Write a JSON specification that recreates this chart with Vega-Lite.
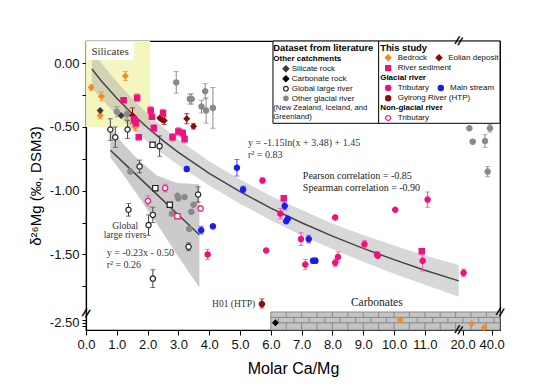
{
  "$schema": "https://vega.github.io/schema/vega-lite/v6.json",
  "width": 414,
  "height": 289,
  "autosize": {"type": "none"},
  "padding": {"left": 86, "top": 41, "right": 57, "bottom": 60},
  "background": "white",
  "data": {"values": [{}]},
  "resolve": {"axis": {"x": "independent", "y": "independent"}},
  "config": {
    "view": {"stroke": "black", "strokeWidth": 1.2},
    "axis": {"grid": false, "domainColor": "black", "domainWidth": 1.2, "tickColor": "black", "tickWidth": 1, "labelFont": "Liberation Sans", "labelFontSize": 13, "labelColor": "#111", "titleFont": "Liberation Sans", "titleFontWeight": "normal", "titleColor": "#000", "labelFlush": false, "labelOverlap": false}
  },
  "datasets": {
    "pts": [
      {"g": "Bedrock", "x": 0.17, "y": -0.19, "err": 0.02},
      {"g": "Bedrock", "x": 0.5, "y": -0.26, "err": 0.035},
      {"g": "Bedrock", "x": 1.28, "y": -0.1, "err": 0.035},
      {"g": "Bedrock", "x": 0.46, "y": -0.41, "err": 0.025},
      {"g": "Bedrock", "x": 1.6, "y": -0.5, "err": 0.03},
      {"g": "Bedrock", "x": 10.2, "y": -2.45},
      {"g": "Bedrock", "x": 26.2, "y": -2.51},
      {"g": "Bedrock", "x": 34.8, "y": -2.58},
      {"g": "Silicate rock", "x": 0.46, "y": -0.37},
      {"g": "Silicate rock", "x": 1.14, "y": -0.41},
      {"g": "Carbonate rock", "x": 6.15, "y": -2.5},
      {"g": "Global large river", "x": 0.79, "y": -0.52, "err": 0.085},
      {"g": "Global large river", "x": 0.95, "y": -0.58, "err": 0.08},
      {"g": "Global large river", "x": 1.35, "y": -0.52, "err": 0.07},
      {"g": "Global large river", "x": 1.74, "y": -0.81, "err": 0.05},
      {"g": "Global large river", "x": 2.39, "y": -0.65, "err": 0.08},
      {"g": "Global large river", "x": 3.64, "y": -1.03, "err": 0.06},
      {"g": "Global large river", "x": 1.38, "y": -1.15, "err": 0.05},
      {"g": "Global large river", "x": 2.17, "y": -1.19, "err": 0.06},
      {"g": "Global large river", "x": 2.03, "y": -1.27, "err": 0.08},
      {"g": "Global large river", "x": 3.33, "y": -1.44, "err": 0.03},
      {"g": "Global large river", "x": 2.17, "y": -1.69, "err": 0.07},
      {"g": "Global large river sq", "x": 2.16, "y": -0.64, "err": 0.015},
      {"g": "Global large river sq", "x": 2.25, "y": -0.98, "err": 0.015},
      {"g": "Global large river sq", "x": 2.72, "y": -1.11, "err": 0.015},
      {"g": "Other glacial river", "x": 1.0, "y": -0.38, "err": 0.04},
      {"g": "Other glacial river", "x": 1.33, "y": -0.4, "err": 0.04},
      {"g": "Other glacial river", "x": 2.93, "y": -0.15, "err": 0.085},
      {"g": "Other glacial river", "x": 3.37, "y": -0.28, "err": 0.04},
      {"g": "Other glacial river", "x": 3.43, "y": -0.28, "err": 0.04},
      {"g": "Other glacial river", "x": 3.75, "y": -0.34, "err": 0.05},
      {"g": "Other glacial river", "x": 3.87, "y": -0.22, "err": 0.06},
      {"g": "Other glacial river", "x": 3.9, "y": -0.37, "err": 0.1},
      {"g": "Other glacial river", "x": 4.12, "y": -0.35, "err": 0.16},
      {"g": "Other glacial river", "x": 1.44, "y": -0.85},
      {"g": "Other glacial river", "x": 2.97, "y": -1.04},
      {"g": "Other glacial river", "x": 3.0, "y": -1.06},
      {"g": "Other glacial river", "x": 3.2, "y": -1.05},
      {"g": "Other glacial river", "x": 2.79, "y": -1.18},
      {"g": "Other glacial river", "x": 3.49, "y": -1.11},
      {"g": "Other glacial river", "x": 3.42, "y": -1.165},
      {"g": "Other glacial river", "x": 3.35, "y": -1.3},
      {"g": "Other glacial river", "x": 24.6, "y": -0.51},
      {"g": "Other glacial river", "x": 38.8, "y": -0.51, "err": 0.03},
      {"g": "Other glacial river", "x": 26.9, "y": -0.615},
      {"g": "Other glacial river", "x": 35.4, "y": -0.61, "err": 0.05},
      {"g": "Other glacial river", "x": 37.2, "y": -0.85, "err": 0.04},
      {"g": "Eolian deposit", "x": 1.51, "y": -0.41, "err": 0.06},
      {"g": "Eolian deposit", "x": 2.39, "y": -0.43},
      {"g": "Eolian deposit", "x": 2.47, "y": -0.445},
      {"g": "Eolian deposit", "x": 2.54, "y": -0.45, "err": 0.03},
      {"g": "Eolian deposit", "x": 3.27, "y": -0.435, "err": 0.04},
      {"g": "Eolian deposit", "x": 3.49, "y": -0.495, "err": 0.02},
      {"g": "River sediment", "x": 1.22, "y": -0.29, "err": 0.02},
      {"g": "River sediment", "x": 1.66, "y": -0.27, "err": 0.03},
      {"g": "River sediment", "x": 1.56, "y": -0.44, "err": 0.03},
      {"g": "River sediment", "x": 1.62, "y": -0.47, "err": 0.03},
      {"g": "River sediment", "x": 1.71, "y": -0.58},
      {"g": "River sediment", "x": 2.1, "y": -0.37, "err": 0.03},
      {"g": "River sediment", "x": 2.14, "y": -0.42},
      {"g": "River sediment", "x": 2.2, "y": -0.51, "err": 0.03},
      {"g": "River sediment", "x": 2.5, "y": -0.39, "err": 0.03},
      {"g": "River sediment", "x": 2.81, "y": -0.58, "err": 0.03},
      {"g": "River sediment", "x": 3.0, "y": -0.535, "err": 0.03},
      {"g": "River sediment", "x": 3.14, "y": -0.55, "err": 0.03},
      {"g": "River sediment", "x": 3.2, "y": -0.595, "err": 0.03},
      {"g": "River sediment", "x": 6.42, "y": -1.06, "err": 0.02},
      {"g": "River sediment", "x": 10.9, "y": -1.475, "err": 0.02},
      {"g": "Glacial tributary", "x": 3.95, "y": -1.5, "err": 0.04},
      {"g": "Glacial tributary", "x": 5.73, "y": -0.92, "err": 0.02},
      {"g": "Glacial tributary", "x": 5.85, "y": -1.47},
      {"g": "Glacial tributary", "x": 6.31, "y": -1.18, "err": 0.04},
      {"g": "Glacial tributary", "x": 6.98, "y": -1.38, "err": 0.05},
      {"g": "Glacial tributary", "x": 7.12, "y": -1.58, "err": 0.04},
      {"g": "Glacial tributary", "x": 8.09, "y": -1.21},
      {"g": "Glacial tributary", "x": 8.09, "y": -1.565, "err": 0.03},
      {"g": "Glacial tributary", "x": 8.18, "y": -1.52, "err": 0.04},
      {"g": "Glacial tributary", "x": 9.04, "y": -1.42, "err": 0.03},
      {"g": "Glacial tributary", "x": 9.45, "y": -1.5, "err": 0.02},
      {"g": "Glacial tributary", "x": 9.47, "y": -1.51},
      {"g": "Glacial tributary", "x": 10.04, "y": -1.15},
      {"g": "Glacial tributary", "x": 10.93, "y": -1.55, "err": 0.08},
      {"g": "Glacial tributary", "x": 11.09, "y": -1.07, "err": 0.06},
      {"g": "Glacial tributary", "x": 20.6, "y": -1.645, "err": 0.03},
      {"g": "Main stream", "x": 3.27, "y": -0.83, "err": 0.02},
      {"g": "Main stream", "x": 3.74, "y": -1.31, "err": 0.03},
      {"g": "Main stream", "x": 4.12, "y": -1.28},
      {"g": "Main stream", "x": 4.9, "y": -0.82, "err": 0.065},
      {"g": "Main stream", "x": 5.1, "y": -0.99, "err": 0.025},
      {"g": "Main stream", "x": 6.45, "y": -1.12, "err": 0.03},
      {"g": "Main stream", "x": 6.5, "y": -1.24},
      {"g": "Main stream", "x": 6.55, "y": -1.22},
      {"g": "Main stream", "x": 7.23, "y": -1.38, "err": 0.03},
      {"g": "Main stream", "x": 7.37, "y": -1.55, "err": 0.02},
      {"g": "Main stream", "x": 7.45, "y": -1.55, "err": 0.02},
      {"g": "Gyirong River (HTP)", "x": 5.71, "y": -1.89, "err": 0.04},
      {"g": "Non-glacial tributary", "x": 2.01, "y": -1.08, "err": 0.04},
      {"g": "Non-glacial tributary", "x": 2.57, "y": -0.98, "err": 0.03},
      {"g": "Non-glacial tributary", "x": 3.72, "y": -1.14, "err": 0.02},
      {"g": "Non-glacial tributary sq", "x": 2.97, "y": -1.2, "err": 0.02}
    ],
    "fit1": [
      {"x": 0.19, "y": -0.045, "lo": -0.195, "hi": 0.105},
      {"x": 0.5, "y": -0.139, "lo": -0.279, "hi": 0.001},
      {"x": 1, "y": -0.275, "lo": -0.405, "hi": -0.145},
      {"x": 1.5, "y": -0.396, "lo": -0.516, "hi": -0.276},
      {"x": 2, "y": -0.506, "lo": -0.616, "hi": -0.396},
      {"x": 2.5, "y": -0.607, "lo": -0.712, "hi": -0.502},
      {"x": 3, "y": -0.699, "lo": -0.799, "hi": -0.599},
      {"x": 4, "y": -0.864, "lo": -0.959, "hi": -0.769},
      {"x": 5, "y": -1.008, "lo": -1.103, "hi": -0.913},
      {"x": 6, "y": -1.137, "lo": -1.232, "hi": -1.042},
      {"x": 7, "y": -1.252, "lo": -1.352, "hi": -1.152},
      {"x": 8, "y": -1.357, "lo": -1.457, "hi": -1.257},
      {"x": 9, "y": -1.453, "lo": -1.558, "hi": -1.348},
      {"x": 10, "y": -1.541, "lo": -1.651, "hi": -1.431},
      {"x": 11, "y": -1.624, "lo": -1.739, "hi": -1.509},
      {"x": 12.1, "y": -1.708, "lo": -1.833, "hi": -1.583}
    ],
    "fit2": [
      {"x": 0.79, "y": -0.682, "lo": -0.74, "hi": -0.51},
      {"x": 1.2, "y": -0.776, "lo": -0.87, "hi": -0.63},
      {"x": 1.66, "y": -0.882, "lo": -1.03, "hi": -0.75},
      {"x": 2.3, "y": -1.029, "lo": -1.26, "hi": -0.88},
      {"x": 2.95, "y": -1.179, "lo": -1.5, "hi": -0.94},
      {"x": 3.68, "y": -1.346, "lo": -1.76, "hi": -0.95}
    ],
    "bricks": [
      {"jx": 6.5, "row": "a"}, {"jx": 7.0, "row": "a"}, {"jx": 7.5, "row": "a"}, {"jx": 8.0, "row": "a"},
      {"jx": 8.5, "row": "a"}, {"jx": 9.0, "row": "a"}, {"jx": 9.5, "row": "a"}, {"jx": 10.0, "row": "a"},
      {"jx": 10.5, "row": "a"}, {"jx": 11.0, "row": "a"}, {"jx": 11.5, "row": "a"}, {"jx": 12.0, "row": "a"},
      {"jx": 25.7, "row": "a"}, {"jx": 36.3, "row": "a"},
      {"jx": 6.25, "row": "b"}, {"jx": 6.75, "row": "b"}, {"jx": 7.25, "row": "b"}, {"jx": 7.75, "row": "b"},
      {"jx": 8.25, "row": "b"}, {"jx": 8.75, "row": "b"}, {"jx": 9.25, "row": "b"}, {"jx": 9.75, "row": "b"},
      {"jx": 10.25, "row": "b"}, {"jx": 10.75, "row": "b"}, {"jx": 11.25, "row": "b"}, {"jx": 11.75, "row": "b"},
      {"jx": 20.2, "row": "b"}, {"jx": 30.9, "row": "b"}, {"jx": 41.6, "row": "b"}
    ]
  },
  "layer": [
    {
      "mark": {"type": "rect", "color": "#f4f6c0"},
      "encoding": {
        "x": {"datum": 0, "type": "quantitative",
          "scale": {"type": "linear", "domain": [0, 12.2, 20, 40, 45.7], "range": [0, 375.8, 376.7, 405.7, 414], "zero": false, "nice": false},
          "axis": {"orient": "bottom", "values": [0, 1, 2, 3, 4, 5, 6, 7, 8, 9, 10, 11, 20, 40], "labelExpr": "format(datum.value, '.1f')", "labelOverlap": false, "tickSize": 5, "labelPadding": 3, "title": "Molar Ca/Mg", "titleFontSize": 16, "titlePadding": 9}},
        "x2": {"datum": 2.08},
        "y": {"datum": -0.5, "type": "quantitative",
          "scale": {"type": "linear", "domain": [-2.62, -2.32, -1.92, 0.175], "range": [289, 271, 266.9, 0], "zero": false, "nice": false},
          "axis": {"orient": "left", "values": [0, -0.25, -0.5, -0.75, -1, -1.25, -1.5, -1.75, -2.45, -2.5, -2.55],
                   "labelExpr": "indexof([0, -0.5, -1, -1.5, -2.5], datum.value) >= 0 ? replace(format(datum.value, '.2f'), '\u2212', '-') : ''",
                   "labelOverlap": false, "tickSize": 4, "labelPadding": 3, "title": "δ²⁶Mg (‰, DSM3)", "titleFontSize": 15, "titlePadding": 6}},
        "y2": {"datum": 0.175}
      }
    },
    {
      "data": {"name": "fit1"},
      "mark": {"type": "area", "color": "#a8a8a8", "opacity": 0.45},
      "encoding": {
        "x": {"field": "x", "type": "quantitative", "axis": null},
        "y": {"field": "lo", "type": "quantitative", "axis": null},
        "y2": {"field": "hi"}
      }
    },
    {
      "data": {"name": "fit2"},
      "mark": {"type": "area", "color": "#a0a0a0", "opacity": 0.55},
      "encoding": {
        "x": {"field": "x", "type": "quantitative", "axis": null},
        "y": {"field": "lo", "type": "quantitative", "axis": null},
        "y2": {"field": "hi"}
      }
    },
    {
      "data": {"name": "fit1"},
      "mark": {"type": "line", "color": "#444444", "strokeWidth": 1.5},
      "encoding": {
        "x": {"field": "x", "type": "quantitative", "axis": null},
        "y": {"field": "y", "type": "quantitative", "axis": null}
      }
    },
    {
      "data": {"name": "fit2"},
      "mark": {"type": "line", "color": "#444444", "strokeWidth": 1.5},
      "encoding": {
        "x": {"field": "x", "type": "quantitative", "axis": null},
        "y": {"field": "y", "type": "quantitative", "axis": null}
      }
    },
    {
      "mark": {"type": "rect", "color": "white"},
      "encoding": {
        "x": {"datum": 0.03, "axis": null}, "x2": {"datum": 1.55},
        "y": {"datum": 0.026, "axis": null}, "y2": {"datum": 0.17}
      }
    },
    {
      "mark": {"type": "text", "text": "Silicates", "font": "Liberation Serif", "fontSize": 11, "align": "center", "baseline": "middle", "color": "#333"},
      "encoding": {"x": {"datum": 0.78, "axis": null}, "y": {"datum": 0.089, "axis": null}}
    },
    {
      "mark": {"type": "rect", "fill": "#c4c4c4", "stroke": "#888888", "strokeWidth": 1},
      "encoding": {
        "x": {"datum": 6.0, "axis": null}, "x2": {"datum": 45.7},
        "y": {"datum": -2.62, "axis": null}, "y2": {"datum": -2.32}
      }
    },
    {
      "mark": {"type": "rule", "color": "#888888", "strokeWidth": 1},
      "encoding": {"x": {"datum": 6.0, "axis": null}, "x2": {"datum": 45.7}, "y": {"datum": -2.41, "axis": null}}
    },
    {
      "mark": {"type": "rule", "color": "#888888", "strokeWidth": 1},
      "encoding": {"x": {"datum": 6.0, "axis": null}, "x2": {"datum": 45.7}, "y": {"datum": -2.5, "axis": null}}
    },
    {
      "data": {"name": "bricks"},
      "transform": [{"filter": "datum.row == 'a'"}],
      "mark": {"type": "rule", "color": "#888888", "strokeWidth": 1},
      "encoding": {"x": {"field": "jx", "type": "quantitative", "axis": null}, "y": {"datum": -2.32, "axis": null}, "y2": {"datum": -2.41}}
    },
    {
      "data": {"name": "bricks"},
      "transform": [{"filter": "datum.row == 'a'"}],
      "mark": {"type": "rule", "color": "#888888", "strokeWidth": 1},
      "encoding": {"x": {"field": "jx", "type": "quantitative", "axis": null}, "y": {"datum": -2.5, "axis": null}, "y2": {"datum": -2.62}}
    },
    {
      "data": {"name": "bricks"},
      "transform": [{"filter": "datum.row == 'b'"}],
      "mark": {"type": "rule", "color": "#888888", "strokeWidth": 1},
      "encoding": {"x": {"field": "jx", "type": "quantitative", "axis": null}, "y": {"datum": -2.41, "axis": null}, "y2": {"datum": -2.5}}
    },
    {
      "mark": {"type": "rect", "fill": "white", "stroke": "black", "strokeWidth": 1},
      "encoding": {
        "x": {"datum": 6.07, "axis": null}, "x2": {"datum": 45.7},
        "y": {"datum": -0.471, "axis": null}, "y2": {"datum": 0.175}
      }
    },
    {
      "mark": {"type": "rule", "color": "black", "strokeWidth": 1},
      "encoding": {"x": {"datum": 9.5, "axis": null}, "y": {"datum": -0.471, "axis": null}, "y2": {"datum": 0.175}}
    },
    {
      "data": {"name": "pts"},
      "transform": [{"filter": "isValid(datum.err)"}],
      "mark": {"type": "errorbar", "ticks": {"size": 5}, "thickness": 1},
      "encoding": {
        "x": {"field": "x", "type": "quantitative", "axis": null},
        "y": {"field": "y", "type": "quantitative", "axis": null},
        "yError": {"field": "err"},
        "color": {"field": "g", "type": "nominal", "legend": null,
          "scale": {"domain": ["Silicate rock", "Carbonate rock", "Global large river", "Global large river sq", "Other glacial river", "Bedrock", "Eolian deposit", "River sediment", "Glacial tributary", "Main stream", "Gyirong River (HTP)", "Non-glacial tributary", "Non-glacial tributary sq"],
                    "range": ["#3a3a3a", "#000000", "#444444", "#444444", "#8a8a8a", "#f58a1f", "#8b0a0a", "#f0509a", "#f0509a", "#4040f0", "#8b1010", "#f0509a", "#f0509a"]}}
      }
    },
    {
      "data": {"name": "pts"},
      "mark": {"type": "point", "filled": true, "opacity": 1, "strokeWidth": 1.2},
      "encoding": {
        "x": {"field": "x", "type": "quantitative", "axis": null},
        "y": {"field": "y", "type": "quantitative", "axis": null},
        "fill": {"field": "g", "type": "nominal", "legend": null,
          "scale": {"domain": ["Silicate rock", "Carbonate rock", "Global large river", "Global large river sq", "Other glacial river", "Bedrock", "Eolian deposit", "River sediment", "Glacial tributary", "Main stream", "Gyirong River (HTP)", "Non-glacial tributary", "Non-glacial tributary sq"],
                    "range": ["#3a3a3a", "#000000", "white", "white", "#8a8a8a", "#f58a1f", "#8b0a0a", "#f0107f", "#f0107f", "#1c1cf0", "#8b1010", "white", "white"]}},
        "stroke": {"field": "g", "type": "nominal", "legend": null,
          "scale": {"domain": ["Silicate rock", "Carbonate rock", "Global large river", "Global large river sq", "Other glacial river", "Bedrock", "Eolian deposit", "River sediment", "Glacial tributary", "Main stream", "Gyirong River (HTP)", "Non-glacial tributary", "Non-glacial tributary sq"],
                    "range": ["#3a3a3a", "#000000", "#222222", "#222222", "#8a8a8a", "#f58a1f", "#8b0a0a", "#f0107f", "#f0107f", "#1c1cf0", "#8b1010", "#f0107f", "#f0107f"]}},
        "shape": {"field": "g", "type": "nominal", "legend": null,
          "scale": {"domain": ["Silicate rock", "Carbonate rock", "Global large river", "Global large river sq", "Other glacial river", "Bedrock", "Eolian deposit", "River sediment", "Glacial tributary", "Main stream", "Gyirong River (HTP)", "Non-glacial tributary", "Non-glacial tributary sq"],
                    "range": ["diamond", "diamond", "circle", "square", "circle", "diamond", "diamond", "square", "circle", "circle", "circle", "circle", "square"]}},
        "size": {"field": "g", "type": "nominal", "legend": null,
          "scale": {"domain": ["Silicate rock", "Carbonate rock", "Global large river", "Global large river sq", "Other glacial river", "Bedrock", "Eolian deposit", "River sediment", "Glacial tributary", "Main stream", "Gyirong River (HTP)", "Non-glacial tributary", "Non-glacial tributary sq"],
                    "range": [28, 28, 32, 28, 20, 28, 28, 24, 26, 26, 26, 32, 28]}}
      }
    },
    {
      "mark": {"type": "text", "text": ["y = -1.15ln(x + 3.48) + 1.45", "r² = 0.83"], "lineHeight": 12, "font": "Liberation Serif", "fontSize": 10, "align": "left", "baseline": "middle", "color": "#333"},
      "encoding": {"x": {"datum": 5.26, "axis": null}, "y": {"datum": -0.628, "axis": null}}
    },
    {
      "mark": {"type": "text", "text": ["Pearson correlation = -0.85", "Spearman correlation = -0.90"], "lineHeight": 12.3, "font": "Liberation Serif", "fontSize": 10, "align": "left", "baseline": "middle", "color": "#222"},
      "encoding": {"x": {"datum": 7.04, "axis": null}, "y": {"datum": -0.882, "axis": null}}
    },
    {
      "mark": {"type": "text", "text": ["Global", "large rivers"], "lineHeight": 8.8, "font": "Liberation Serif", "fontSize": 9.5, "align": "center", "baseline": "middle", "color": "#333"},
      "encoding": {"x": {"datum": 1.27, "axis": null}, "y": {"datum": -1.281, "axis": null}}
    },
    {
      "mark": {"type": "text", "text": ["y = -0.23x - 0.50", "r² = 0.26"], "lineHeight": 12.3, "font": "Liberation Serif", "fontSize": 10, "align": "left", "baseline": "middle", "color": "#333"},
      "encoding": {"x": {"datum": 0.67, "axis": null}, "y": {"datum": -1.487, "axis": null}}
    },
    {
      "mark": {"type": "text", "text": "H01 (HTP)", "font": "Liberation Serif", "fontSize": 9.5, "align": "right", "baseline": "middle", "color": "#333"},
      "encoding": {"x": {"datum": 5.49, "axis": null}, "y": {"datum": -1.888, "axis": null}}
    },
    {
      "mark": {"type": "text", "text": "Carbonates", "font": "Liberation Serif", "fontSize": 11.5, "align": "center", "baseline": "middle", "color": "#222"},
      "encoding": {"x": {"datum": 9.44, "axis": null}, "y": {"datum": -1.884, "axis": null}}
    },
    {
      "mark": {"type": "text", "text": "Dataset from literature", "font": "Liberation Sans", "fontSize": 9.4, "fontWeight": "bold", "align": "left", "baseline": "middle", "color": "#000"},
      "encoding": {"x": {"datum": 6.08, "axis": null}, "y": {"datum": 0.122, "axis": null}}
    },
    {
      "mark": {"type": "text", "text": "This study", "font": "Liberation Sans", "fontSize": 9.4, "fontWeight": "bold", "align": "left", "baseline": "middle", "color": "#000"},
      "encoding": {"x": {"datum": 9.55, "axis": null}, "y": {"datum": 0.122, "axis": null}}
    },
    {
      "mark": {"type": "text", "text": "Other catchments", "font": "Liberation Sans", "fontSize": 8, "fontWeight": "bold", "align": "left", "baseline": "middle", "color": "#000"},
      "encoding": {"x": {"datum": 6.08, "axis": null}, "y": {"datum": 0.036, "axis": null}}
    },
    {
      "mark": {"type": "text", "text": ["Silicate rock", "Carbonate rock", "Global large river", "Other glacial river"], "lineHeight": 10, "font": "Liberation Sans", "fontSize": 8, "align": "left", "baseline": "middle", "color": "#111"},
      "encoding": {"x": {"datum": 6.68, "axis": null}, "y": {"datum": -0.042, "axis": null}}
    },
    {
      "mark": {"type": "text", "text": ["(New  Zealand, Iceland, and", "Greenland)"], "lineHeight": 9, "font": "Liberation Sans", "fontSize": 7.7, "align": "left", "baseline": "middle", "color": "#111"},
      "encoding": {"x": {"datum": 6.08, "axis": null}, "y": {"datum": -0.353, "axis": null}}
    },
    {
      "mark": {"type": "text", "text": ["Bedrock", "River sediment"], "lineHeight": 10.3, "font": "Liberation Sans", "fontSize": 8, "align": "left", "baseline": "middle", "color": "#111"},
      "encoding": {"x": {"datum": 10.12, "axis": null}, "y": {"datum": 0.044, "axis": null}}
    },
    {
      "mark": {"type": "text", "text": ["Tributary", "Gyirong River (HTP)"], "lineHeight": 10.3, "font": "Liberation Sans", "fontSize": 8, "align": "left", "baseline": "middle", "color": "#111"},
      "encoding": {"x": {"datum": 10.12, "axis": null}, "y": {"datum": -0.194, "axis": null}}
    },
    {
      "mark": {"type": "text", "text": "Tributary", "font": "Liberation Sans", "fontSize": 8, "align": "left", "baseline": "middle", "color": "#111"},
      "encoding": {"x": {"datum": 10.12, "axis": null}, "y": {"datum": -0.429, "axis": null}}
    },
    {
      "mark": {"type": "text", "text": "Eolian deposit", "font": "Liberation Sans", "fontSize": 8, "align": "left", "baseline": "middle", "color": "#111"},
      "encoding": {"x": {"datum": 11.76, "axis": null}, "y": {"datum": 0.044, "axis": null}}
    },
    {
      "mark": {"type": "text", "text": "Main stream", "font": "Liberation Sans", "fontSize": 8, "align": "left", "baseline": "middle", "color": "#111"},
      "encoding": {"x": {"datum": 11.82, "axis": null}, "y": {"datum": -0.194, "axis": null}}
    },
    {
      "mark": {"type": "text", "text": "Glacial river", "font": "Liberation Sans", "fontSize": 8, "fontWeight": "bold", "align": "left", "baseline": "middle", "color": "#000"},
      "encoding": {"x": {"datum": 9.55, "axis": null}, "y": {"datum": -0.118, "axis": null}}
    },
    {
      "mark": {"type": "text", "text": "Non-glacial river", "font": "Liberation Sans", "fontSize": 8, "fontWeight": "bold", "align": "left", "baseline": "middle", "color": "#000"},
      "encoding": {"x": {"datum": 9.55, "axis": null}, "y": {"datum": -0.353, "axis": null}}
    },
    {
      "mark": {"type": "point", "shape": "diamond", "filled": true, "fill": "#3a3a3a", "stroke": "#3a3a3a", "size": 22, "opacity": 1},
      "encoding": {"x": {"datum": 6.49, "axis": null}, "y": {"datum": -0.042, "axis": null}}
    },
    {
      "mark": {"type": "point", "shape": "diamond", "filled": true, "fill": "#000000", "stroke": "#000000", "size": 22, "opacity": 1},
      "encoding": {"x": {"datum": 6.49, "axis": null}, "y": {"datum": -0.121, "axis": null}}
    },
    {
      "mark": {"type": "point", "shape": "circle", "filled": true, "fill": "white", "stroke": "#222222", "strokeWidth": 1.2, "size": 22, "opacity": 1},
      "encoding": {"x": {"datum": 6.49, "axis": null}, "y": {"datum": -0.199, "axis": null}}
    },
    {
      "mark": {"type": "point", "shape": "circle", "filled": true, "fill": "#8a8a8a", "stroke": "#8a8a8a", "size": 14, "opacity": 1},
      "encoding": {"x": {"datum": 6.49, "axis": null}, "y": {"datum": -0.275, "axis": null}}
    },
    {
      "mark": {"type": "point", "shape": "diamond", "filled": true, "fill": "#f58a1f", "stroke": "#f58a1f", "size": 22, "opacity": 1},
      "encoding": {"x": {"datum": 9.81, "axis": null}, "y": {"datum": 0.044, "axis": null}}
    },
    {
      "mark": {"type": "point", "shape": "diamond", "filled": true, "fill": "#8b0a0a", "stroke": "#8b0a0a", "size": 22, "opacity": 1},
      "encoding": {"x": {"datum": 11.46, "axis": null}, "y": {"datum": 0.044, "axis": null}}
    },
    {
      "mark": {"type": "point", "shape": "square", "filled": true, "fill": "#f0107f", "stroke": "#f0107f", "size": 18, "opacity": 1},
      "encoding": {"x": {"datum": 9.81, "axis": null}, "y": {"datum": -0.037, "axis": null}}
    },
    {
      "mark": {"type": "point", "shape": "circle", "filled": true, "fill": "#f0107f", "stroke": "#f0107f", "size": 20, "opacity": 1},
      "encoding": {"x": {"datum": 9.81, "axis": null}, "y": {"datum": -0.194, "axis": null}}
    },
    {
      "mark": {"type": "point", "shape": "circle", "filled": true, "fill": "#1c1cf0", "stroke": "#1c1cf0", "size": 20, "opacity": 1},
      "encoding": {"x": {"datum": 11.52, "axis": null}, "y": {"datum": -0.194, "axis": null}}
    },
    {
      "mark": {"type": "point", "shape": "circle", "filled": true, "fill": "#8b1010", "stroke": "#8b1010", "size": 20, "opacity": 1},
      "encoding": {"x": {"datum": 9.81, "axis": null}, "y": {"datum": -0.275, "axis": null}}
    },
    {
      "mark": {"type": "point", "shape": "circle", "filled": true, "fill": "white", "stroke": "#f0107f", "strokeWidth": 1.2, "size": 24, "opacity": 1},
      "encoding": {"x": {"datum": 9.81, "axis": null}, "y": {"datum": -0.429, "axis": null}}
    },
    {
      "mark": {"type": "text", "text": "//", "font": "Liberation Sans", "fontSize": 12, "fontWeight": "bold", "angle": 20, "align": "center", "baseline": "middle", "color": "#000"},
      "encoding": {"x": {"datum": 12.1, "axis": null}, "y": {"datum": 0.175, "axis": null}}
    },
    {
      "mark": {"type": "text", "text": "//", "font": "Liberation Sans", "fontSize": 12, "fontWeight": "bold", "angle": 20, "align": "center", "baseline": "middle", "color": "#000"},
      "encoding": {"x": {"datum": 12.1, "axis": null}, "y": {"datum": -2.62, "axis": null}}
    },
    {
      "mark": {"type": "text", "text": "//", "font": "Liberation Sans", "fontSize": 12, "fontWeight": "bold", "angle": 20, "align": "center", "baseline": "middle", "color": "#000"},
      "encoding": {"x": {"datum": 45.7, "axis": null}, "y": {"datum": -2.32, "axis": null}}
    },
    {
      "mark": {"type": "text", "text": "//", "font": "Liberation Sans", "fontSize": 12, "fontWeight": "bold", "angle": 20, "align": "center", "baseline": "middle", "color": "#000"},
      "encoding": {"x": {"datum": 0, "axis": null}, "y": {"datum": -2.34, "axis": null}}
    }
  ]
}
